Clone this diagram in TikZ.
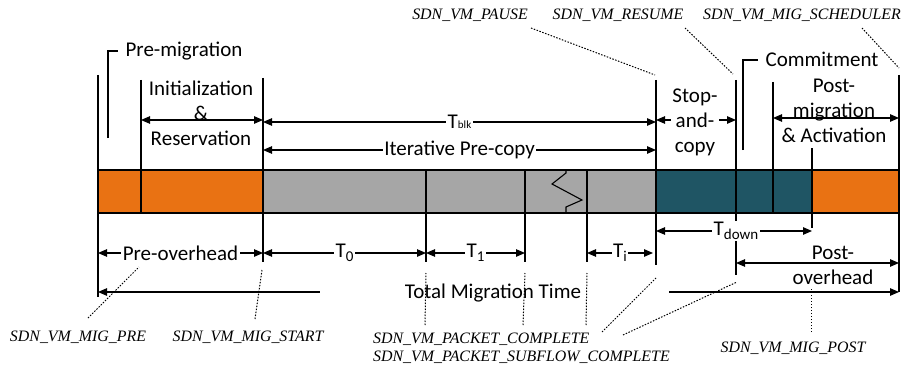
\documentclass[tikz,border=0pt]{standalone}
\usepackage{fontspec}
\setmainfont{Carlito}
\newfontfamily\lblfont{Liberation Serif}
\usetikzlibrary{arrows.meta}
\definecolor{barorange}{RGB}{233,114,19}
\definecolor{bargray}{RGB}{166,166,166}
\definecolor{barteal}{RGB}{31,85,100}
\newcommand\lowsub[1]{\raisebox{-0.35ex}{\fontsize{15}{15}\selectfont #1}}
\begin{document}
\begin{tikzpicture}[x=1pt,y=-1pt,
  >={Triangle[length=9pt,width=7.5pt]},
  ln/.style={line width=1.1pt},
  dim/.style={line width=1.1pt,<->},
  barframe/.style={line width=1.7pt,draw=black},
  dotln/.style={line width=1pt,dash pattern=on 1.5pt off 1.5pt},
  lbl/.style={font=\fontsize{15.9}{18}\selectfont\lblfont\itshape,inner sep=0pt},
  txt/.style={font=\fontsize{21}{25}\selectfont,inner sep=1pt,align=center},
  cut/.style={txt,fill=white,inner sep=1.5pt}]
\useasboundingbox (0,0) rectangle (903,369);

% ---------- bar ----------
\fill[barorange] (98,170) rectangle (263,213);
\fill[bargray] (263,170) rectangle (656,213);
\fill[barteal] (656,170) rectangle (812,213);
\fill[barorange] (812,170) rectangle (899,213);
\draw[barframe] (98,170) rectangle (899,213);
\draw[ln] (566,170) -- (566,173) -- (552,184) -- (582,200) -- (566,207) -- (566,213);

% ---------- vertical lines ----------
\coordinate (a1) at (98,75);   \coordinate (a2) at (98,297);
\coordinate (b1) at (141,80);  \coordinate (b2) at (141,213);
\coordinate (c1) at (263,78);  \coordinate (c2) at (263,262);
\coordinate (d1) at (426,170); \coordinate (d2) at (426,262);
\coordinate (e1) at (525,170); \coordinate (e2) at (525,262);
\coordinate (f1) at (587,170); \coordinate (f2) at (587,262);
\coordinate (g1) at (656,80);  \coordinate (g2) at (656,265);
\coordinate (h1) at (736,80);  \coordinate (h2) at (736,275);
\coordinate (i1) at (773,82);  \coordinate (i2) at (773,213);
\coordinate (j1) at (812,148); \coordinate (j2) at (812,228);
\coordinate (k1) at (899,75);  \coordinate (k2) at (899,292);
\foreach \p in {a,b,c,d,e,f,g,h,i,j,k} \draw[ln] (\p1) -- (\p2);

% ---------- brackets ----------
\coordinate (pm1) at (108,138); \coordinate (pm2) at (108,51); \coordinate (pm3) at (118,51);
\draw[ln] (pm1) -- (pm2) -- (pm3);
\coordinate (cm1) at (743,150); \coordinate (cm2) at (743,60); \coordinate (cm3) at (758,60);
\draw[ln] (cm1) -- (cm2) -- (cm3);
\node[txt] (premig) at (184,51) {Pre-migration};
\node[txt] (commit) at (822,59) {Commitment};

% ---------- upper dimension arrows ----------
\coordinate (ir1) at (141,120); \coordinate (ir2) at (263,120);
\draw[dim] (ir1) -- (ir2);
\node[txt] (init) at (201,113) {Initialization\\\&\\Reservation};

\coordinate (tb1) at (263,122); \coordinate (tb2) at (656,122);
\draw[dim] (tb1) -- node[cut] (tblk) {T{\fontsize{11}{11}\selectfont blk}} (tb2);

\coordinate (ip1) at (263,150); \coordinate (ip2) at (656,150);
\draw[dim] (ip1) -- node[cut] (ipc) {Iterative Pre-copy} (ip2);

\coordinate (sc1) at (656,120); \coordinate (sc2) at (736,120);
\draw[dim] (sc1) -- (sc2);
\node[cut] (stop) at (695,122) {Stop-\\and-\\copy};

\coordinate (pa1) at (773,118); \coordinate (pa2) at (899,118);
\draw[dim] (pa1) -- (pa2);
\node[txt] (postmig) at (834,111) {Post-\\migration\\\& Activation};

% ---------- lower dimension arrows ----------
\coordinate (po1) at (98,253); \coordinate (po2) at (263,253);
\draw[dim] (po1) -- node[cut] (preover) {Pre-overhead} (po2);
\coordinate (t01) at (263,253); \coordinate (t02) at (426,253);
\draw[dim] (t01) -- node[cut] (tzero) {T\lowsub{0}} (t02);
\coordinate (t11) at (426,253); \coordinate (t12) at (525,253);
\draw[dim] (t11) -- node[cut] (tone) {T\lowsub{1}} (t12);
\coordinate (ti1) at (587,253); \coordinate (ti2) at (653,253);
\draw[dim] (ti1) -- node[cut] (ti) {T\lowsub{i}} (ti2);
\coordinate (td1) at (656,231); \coordinate (td2) at (812,231);
\draw[dim] (td1) -- node[cut,xshift=2pt] (tdown) {T\lowsub{down}} (td2);
\coordinate (pv1) at (736,263); \coordinate (pv2) at (899,263);
\draw[dim] (pv1) -- (pv2);
\node[txt] (postover) at (833,265) {Post-\\overhead};

\coordinate (tm1) at (98,292); \coordinate (tm2) at (320,292);
\coordinate (tm3) at (669,292); \coordinate (tm4) at (899,292);
\draw[ln,<-] (tm1) -- (tm2);
\draw[ln,->] (tm3) -- (tm4);
\node[txt] (tmt) at (493,293) {Total Migration Time};

% ---------- event labels ----------
\node[lbl] (pre) at (78,337) {SDN\_VM\_MIG\_PRE};
\node[lbl] (start) at (248,337) {SDN\_VM\_MIG\_START};
\node[lbl,anchor=west] (pc) at (373,339) {SDN\_VM\_PACKET\_COMPLETE};
\node[lbl,anchor=west] (psc) at (373,357) {SDN\_VM\_PACKET\_SUBFLOW\_COMPLETE};
\node[lbl] (post) at (793,348) {SDN\_VM\_MIG\_POST};
\node[lbl] (pause) at (470,15) {SDN\_VM\_PAUSE};
\node[lbl] (resume) at (618,15) {SDN\_VM\_RESUME};
\node[lbl] (sched) at (802,15) {SDN\_VM\_MIG\_SCHEDULER};

% ---------- dotted leaders ----------
\coordinate (dpre1) at (88,318);  \coordinate (dpre2) at (139,267);
\draw[dotln] (dpre1) -- (dpre2);
\coordinate (dst1) at (255,319);  \coordinate (dst2) at (262,270);
\draw[dotln] (dst1) -- (dst2);
\coordinate (dd1) at (425,325); \coordinate (dd2) at (426,273);
\draw[dotln] (dd1) -- (dd2);
\coordinate (de1) at (523,325); \coordinate (de2) at (525,273);
\draw[dotln] (de1) -- (de2);
\coordinate (df1) at (586,325); \coordinate (df2) at (587,273);
\draw[dotln] (df1) -- (df2);
\coordinate (dg1) at (602,332); \coordinate (dg2) at (657,277);
\draw[dotln] (dg1) -- (dg2);
\coordinate (dh1) at (623,335); \coordinate (dh2) at (737,282);
\draw[dotln] (dh1) -- (dh2);
\coordinate (dp1) at (811,332); \coordinate (dp2) at (811,287);
\draw[dotln] (dp1) -- (dp2);
\coordinate (dpa1) at (531,28); \coordinate (dpa2) at (655,75);
\draw[dotln] (dpa1) -- (dpa2);
\coordinate (dr1) at (685,28); \coordinate (dr2) at (733,74);
\draw[dotln] (dr1) -- (dr2);
\coordinate (ds1) at (862,28); \coordinate (ds2) at (899,68);
\draw[dotln] (ds1) -- (ds2);
\end{tikzpicture}
\end{document}
